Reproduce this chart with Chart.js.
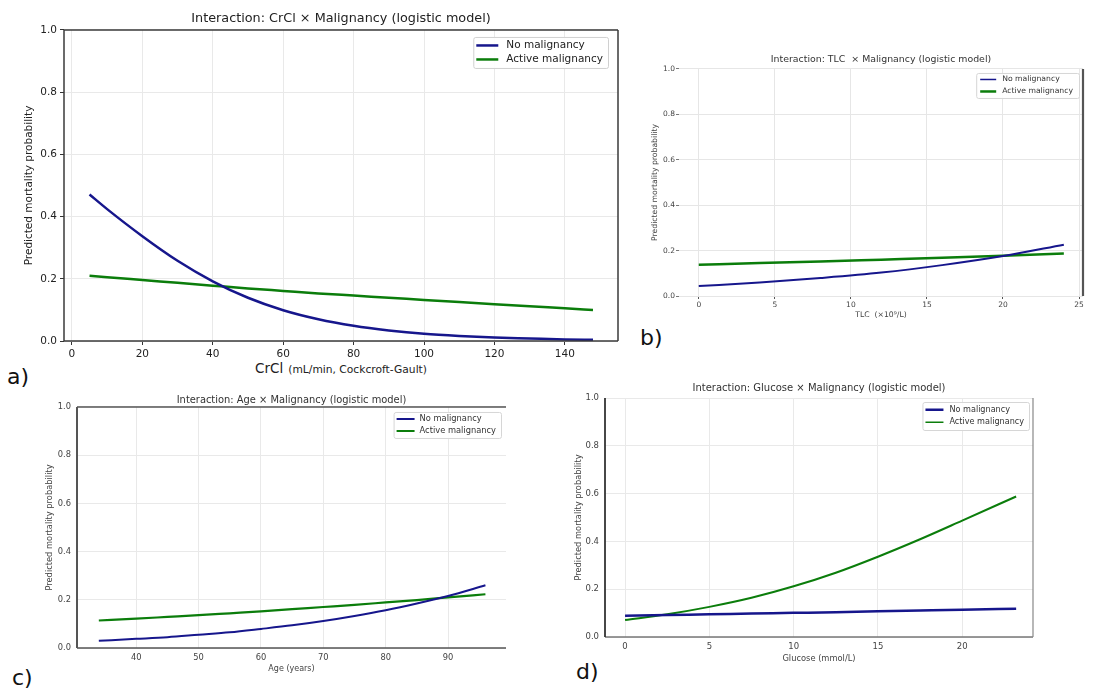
<!DOCTYPE html>
<html><head><meta charset="utf-8">
<script src="https://cdn.jsdelivr.net/npm/chart.js@4.4.1/dist/chart.umd.min.js"></script>
<style>
html,body{margin:0;padding:0;background:#fff;width:1096px;height:694px;overflow:hidden;position:relative;font-family:"DejaVu Sans",sans-serif;}
canvas{position:absolute;}
.tag{position:absolute;font-size:22px;color:#111;line-height:1;}
.xt{position:absolute;white-space:nowrap;color:#222;transform:translate(-50%,-50%);}
</style></head><body>
<div class="tag" style="left:7px;top:366px">a)</div>
<div class="tag" style="left:640px;top:327px">b)</div>
<div class="tag" style="left:12px;top:667px">c)</div>
<div class="tag" style="left:576px;top:661px">d)</div>
<div class="xt" style="left:341px;top:367px"><span style="font-size:13.5px">CrCl</span> <span style="font-size:10.7px">(mL/min, Cockcroft-Gault)</span></div>
<script>
// ---------- data ----------
const seriesNames = ['No malignancy', 'Active malignancy'];
const probTicks = [0, 0.2, 0.4, 0.6, 0.8, 1.0];

const crclX      = [5, 10, 20, 30, 40, 50, 60, 70, 80, 90, 100, 110, 120, 130, 140, 148];
const crclNoMal  = [0.471, 0.424, 0.337, 0.258, 0.192, 0.139, 0.099, 0.070, 0.049, 0.034, 0.023, 0.016, 0.011, 0.008, 0.005, 0.004];
const crclActive = [0.210, 0.205, 0.196, 0.187, 0.178, 0.169, 0.161, 0.153, 0.146, 0.139, 0.132, 0.125, 0.118, 0.112, 0.105, 0.100];
const crclTicks  = [0, 20, 40, 60, 80, 100, 120, 140];

const tlcX      = [0, 4, 8, 12, 16, 20, 24];
const tlcNoMal  = [0.044, 0.059, 0.079, 0.103, 0.136, 0.176, 0.226];
const tlcActive = [0.138, 0.145, 0.152, 0.160, 0.168, 0.177, 0.187];
const tlcTicks  = [0, 5, 10, 15, 20, 25];

const ageX      = [34, 40, 45, 50, 55, 60, 65, 70, 75, 80, 85, 90, 96];
const ageNoMal  = [0.030, 0.038, 0.045, 0.055, 0.065, 0.079, 0.094, 0.112, 0.133, 0.157, 0.185, 0.216, 0.260];
const ageActive = [0.114, 0.122, 0.129, 0.136, 0.144, 0.152, 0.161, 0.170, 0.179, 0.189, 0.199, 0.210, 0.223];
const ageTicks  = [40, 50, 60, 70, 80, 90];

const gluX      = [0, 2.5, 5, 7.5, 10, 12.5, 15, 17.5, 20, 23.2];
const gluNoMal  = [0.089, 0.092, 0.095, 0.098, 0.101, 0.104, 0.108, 0.111, 0.114, 0.118];
const gluActive = [0.071, 0.095, 0.126, 0.164, 0.212, 0.269, 0.336, 0.409, 0.487, 0.588];
const gluTicks  = [0, 5, 10, 15, 20];

// ---------- styling ----------
const FONT = '"DejaVu Sans", sans-serif';
const BLUE = '#16168c';
const GREEN = '#0b7d0b';

const framePlugin = {
  id: 'frame',
  afterDatasetsDraw(chart, args, o) {
    const {left, right, top, bottom} = chart.chartArea;
    const ctx = chart.ctx;
    ctx.save();
    const side = (s, x1, y1, x2, y2) => {
      if (!s) return;
      ctx.strokeStyle = s.c; ctx.lineWidth = s.w;
      ctx.beginPath(); ctx.moveTo(x1, y1); ctx.lineTo(x2, y2); ctx.stroke();
    };
    side(o.top, left, top, right, top);
    side(o.bottom, left, bottom, right, bottom);
    side(o.left, left, top, left, bottom);
    side(o.right, right, top, right, bottom);
    ctx.restore();
  }
};

const boxLegend = {
  id: 'boxLegend',
  afterDatasetsDraw(chart, args, o) {
    const ctx = chart.ctx, ca = chart.chartArea;
    const ds = chart.data.datasets;
    ctx.save();
    ctx.font = o.font + 'px ' + FONT;
    const tw = Math.max(...ds.map(d => ctx.measureText(d.label).width));
    const w = o.pad + o.lineLen + o.gap + tw + o.pad + 2;
    const h = o.padY * 2 + o.rowH * ds.length;
    const x = ca.right - o.right - w, y = ca.top + o.top;
    ctx.fillStyle = 'rgba(255,255,255,0.9)';
    ctx.strokeStyle = o.border; ctx.lineWidth = 1;
    ctx.beginPath();
    if (ctx.roundRect) ctx.roundRect(x + 0.5, y + 0.5, w, h, 2); else ctx.rect(x + 0.5, y + 0.5, w, h);
    ctx.fill(); ctx.stroke();
    ds.forEach((d, i) => {
      const cy = y + o.padY + o.rowH * (i + 0.5);
      ctx.strokeStyle = d.borderColor; ctx.lineWidth = o.lineWidths[i];
      ctx.beginPath(); ctx.moveTo(x + o.pad, cy); ctx.lineTo(x + o.pad + o.lineLen, cy); ctx.stroke();
      ctx.fillStyle = o.color; ctx.textBaseline = 'middle'; ctx.textAlign = 'left';
      ctx.fillText(d.label, x + o.pad + o.lineLen + o.gap, cy);
    });
    ctx.restore();
  }
};

function pts(xs, ys) { return xs.map((x, i) => ({x: x, y: ys[i]})); }

function make(s) {
  const c = document.createElement('canvas');
  c.width = s.w; c.height = s.h;
  c.style.left = s.left + 'px'; c.style.top = s.top + 'px';
  c.style.width = s.w + 'px'; c.style.height = s.h + 'px';
  document.body.appendChild(c);
  const tickOpts = (fmt, pad) => ({
    font: {family: FONT, size: s.tickFont}, color: s.tickColor, padding: pad,
    maxRotation: 0, autoSkip: false, callback: fmt
  });
  return new Chart(c, {
    type: 'line',
    data: {
      datasets: [
        {label: seriesNames[0], data: pts(s.xs, s.y0), borderColor: BLUE, borderWidth: s.lw[0],
         pointRadius: 0, fill: false, cubicInterpolationMode: 'monotone'},
        {label: seriesNames[1], data: pts(s.xs, s.y1), borderColor: GREEN, borderWidth: s.lw[1],
         pointRadius: 0, fill: false, cubicInterpolationMode: 'monotone'}
      ]
    },
    options: {
      responsive: false, animation: false, devicePixelRatio: 1,
      layout: {padding: {left: 0, top: 0, right: s.padR, bottom: 0}},
      plugins: {
        legend: {display: false}, tooltip: {enabled: false},
        title: {display: true, text: s.title, fullSize: false, align: 'center', color: s.titleColor,
                font: {family: FONT, size: s.titleFont, weight: 'normal'},
                padding: {top: s.titlePad[0], bottom: s.titlePad[1]}},
        frame: s.frame,
        boxLegend: s.legend
      },
      scales: {
        x: {
          type: 'linear', min: s.xmin, max: s.xmax,
          afterBuildTicks: sc => { sc.ticks = s.xTicks.map(v => ({value: v})); },
          afterFit: sc => { sc.height = s.xH; },
          grid: {color: s.gridColor, lineWidth: 1, drawTicks: true, tickLength: s.tickLen,
                 tickColor: s.tickMarkColor, tickWidth: 1},
          border: {display: false},
          ticks: tickOpts(v => String(v), s.xTickPad),
          title: s.xTitle ? {display: true, text: s.xTitle, color: s.tickColor,
                 font: {family: FONT, size: s.xTitleFont}, padding: {top: 0, bottom: s.xTitlePadB}}
                 : {display: false}
        },
        y: {
          type: 'linear', min: 0, max: 1,
          afterBuildTicks: sc => { sc.ticks = probTicks.map(v => ({value: v})); },
          afterFit: sc => { sc.width = s.yW; },
          grid: {color: s.gridColor, lineWidth: 1, drawTicks: true, tickLength: s.yTickLen,
                 tickColor: s.yTickMarkColor, tickWidth: 1},
          border: {display: false},
          ticks: tickOpts(v => Number(v).toFixed(1), s.yTickPad),
          title: {display: true, text: 'Predicted mortality probability', color: s.tickColor,
                  font: {family: FONT, size: s.yTitleFont}, padding: {top: s.yTitlePadT, bottom: 0}}
        }
      }
    },
    plugins: [framePlugin, boxLegend]
  });
}

// a) CrCl
make({
  left: 0, top: 0, w: 640, h: 362, yW: 64, xH: 21, padR: 22,
  xs: crclX, y0: crclNoMal, y1: crclActive, lw: [2.5, 2.5],
  xmin: -2.25, xmax: 155.1, xTicks: crclTicks,
  title: 'Interaction: CrCl \u00d7 Malignancy (logistic model)', titleFont: 12.8, titlePad: [11.3, 3.3], titleColor: '#222',
  tickFont: 10.5, tickColor: '#222', tickLen: 4, tickMarkColor: '#333', xTickPad: 3,
  yTickLen: 4, yTickMarkColor: '#333', yTickPad: 3,
  gridColor: '#e9e9e9', xTitle: null,
  yTitleFont: 10.5, yTitlePadT: 23.4,
  frame: {top: {c: '#3a3a3a', w: 1.5}, bottom: {c: '#3a3a3a', w: 1.5}, left: {c: '#3a3a3a', w: 1.5}, right: {c: '#3a3a3a', w: 1.5}},
  legend: {right: 10, top: 7, font: 10.5, pad: 3, lineLen: 22, gap: 8, rowH: 14, padY: 1.5,
           color: '#222', border: '#d0d0d0', lineWidths: [2.5, 2.5]}
});

// b) TLC
make({
  left: 630, top: 40, w: 466, h: 285, yW: 49, xH: 29, padR: 13,
  xs: tlcX, y0: tlcNoMal, y1: tlcActive, lw: [2, 2.5],
  xmin: -1.3, xmax: 25.26, xTicks: tlcTicks,
  title: 'Interaction: TLC  \u00d7 Malignancy (logistic model)', titleFont: 9.4, titlePad: [14.4, 3.3], titleColor: '#333',
  tickFont: 7.5, tickColor: '#444', tickLen: 3, tickMarkColor: '#555', xTickPad: 2,
  yTickLen: 3, yTickMarkColor: '#777', yTickPad: 1,
  gridColor: '#e6e6e6', xTitle: 'TLC  (\u00d710\u2079/L)', xTitleFont: 7.7, xTitlePadB: 5.4,
  yTitleFont: 7.7, yTitlePadT: 20.4,
  frame: {right: {c: '#555', w: 2.2}},
  legend: {right: 4, top: 4, font: 7.7, pad: 4, lineLen: 16, gap: 6, rowH: 12, padY: 0.5,
           color: '#333', border: '#d6d6d6', lineWidths: [1.5, 2.5]}
});

// c) Age
make({
  left: 0, top: 385, w: 530, h: 300, yW: 77, xH: 37, padR: 24,
  xs: ageX, y0: ageNoMal, y1: ageActive, lw: [2, 2.2],
  xmin: 30.5, xmax: 99.3, xTicks: ageTicks,
  title: 'Interaction: Age \u00d7 Malignancy (logistic model)', titleFont: 9.9, titlePad: [9.1, 1], titleColor: '#333',
  tickFont: 8.3, tickColor: '#444', tickLen: 3, tickMarkColor: 'rgba(0,0,0,0)', xTickPad: 2,
  yTickLen: 3, yTickMarkColor: 'rgba(0,0,0,0)', yTickPad: 3,
  gridColor: '#e9e9e9', xTitle: 'Age (years)', xTitleFont: 8, xTitlePadB: 11.2,
  yTitleFont: 8.3, yTitlePadT: 45,
  frame: {left: {c: '#555', w: 2}, top: {c: '#555', w: 1.5}, bottom: {c: '#555', w: 1.5}},
  legend: {right: 5, top: 5, font: 8.3, pad: 3, lineLen: 18, gap: 5, rowH: 12, padY: 1,
           color: '#333', border: '#d6d6d6', lineWidths: [2, 2]}
});

// d) Glucose
make({
  left: 540, top: 375, w: 556, h: 305, yW: 65, xH: 43, padR: 63,
  xs: gluX, y0: gluNoMal, y1: gluActive, lw: [2.5, 2],
  xmin: -1.19, xmax: 24.2, xTicks: gluTicks,
  title: 'Interaction: Glucose \u00d7 Malignancy (logistic model)', titleFont: 10, titlePad: [7, 4], titleColor: '#333',
  tickFont: 8.5, tickColor: '#444', tickLen: 3, tickMarkColor: 'rgba(0,0,0,0)', xTickPad: 2,
  yTickLen: 3, yTickMarkColor: 'rgba(0,0,0,0)', yTickPad: 3,
  gridColor: '#e9e9e9', xTitle: 'Glucose (mmol/L)', xTitleFont: 8.3, xTitlePadB: 16,
  yTitleFont: 8.3, yTitlePadT: 34,
  frame: {left: {c: '#333', w: 1.8}, bottom: {c: '#777', w: 1.3}, right: {c: '#888', w: 1.2}},
  legend: {right: 4, top: 4, font: 8.1, pad: 3, lineLen: 18, gap: 6, rowH: 12.5, padY: 1.5,
           color: '#333', border: '#d6d6d6', lineWidths: [2.5, 1.5]}
});
</script>
</body></html>
